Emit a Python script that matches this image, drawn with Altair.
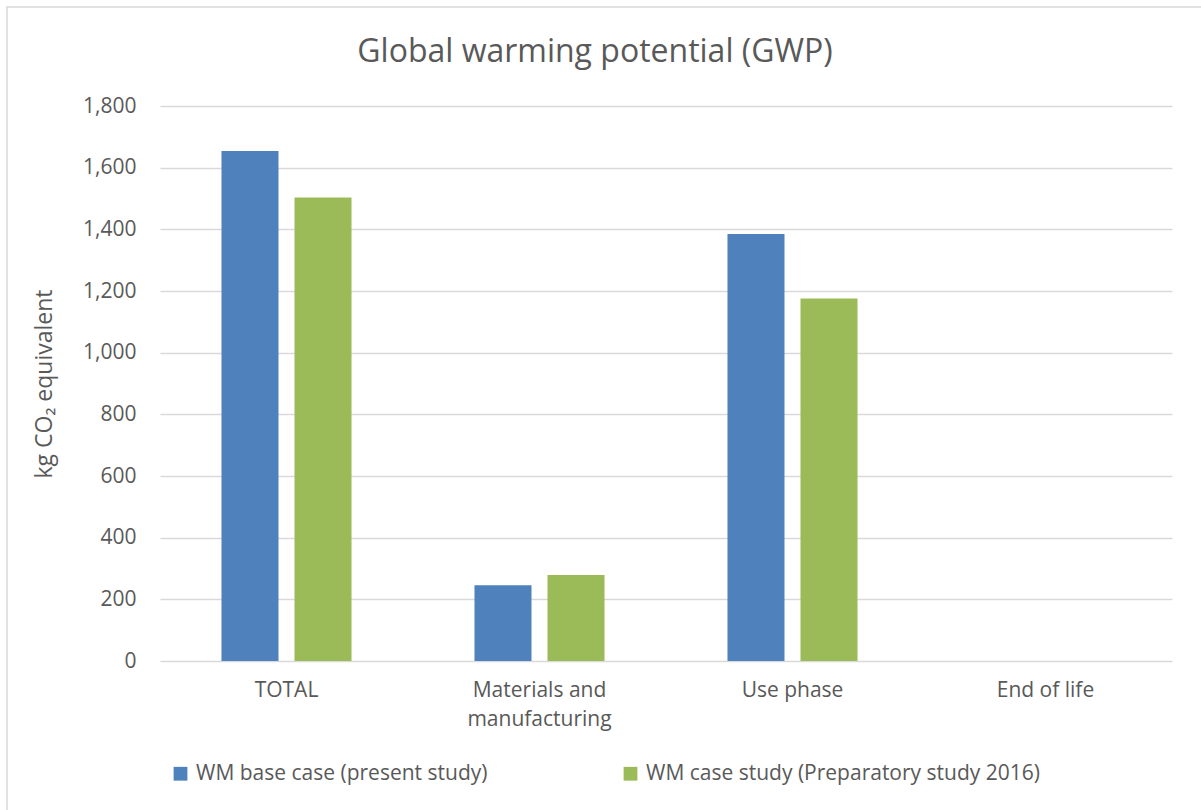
import altair as alt
import pandas as pd

# Life-cycle stages and the two compared cases
categories = ["TOTAL", "Materials and\nmanufacturing", "Use phase", "End of life"]
series = ["WM base case (present study)", "WM case study (Preparatory study 2016)"]
base_case = [1654, 246, 1385, 0]
case_study = [1503, 279, 1176, 0]
y_ticks = [0, 200, 400, 600, 800, 1000, 1200, 1400, 1600, 1800]
colors = ["#4F81BD", "#9BBB59"]
chart_title = "Global warming potential (GWP)"

rows = []
for cat, a, b in zip(categories, base_case, case_study):
    rows.append({"stage": cat, "case": series[0], "value": a})
    rows.append({"stage": cat, "case": series[1], "value": b})
df = pd.DataFrame(rows)

FONT = "Open Sans"
TXT = "#595959"
GRID = "#d9d9d9"

bars = alt.Chart(df).mark_bar().encode(
    x=alt.X(
        "stage:N",
        sort=categories,
        scale=alt.Scale(paddingInner=0, paddingOuter=0),
        axis=alt.Axis(
            title=None,
            labelAngle=0,
            labelFontSize=21,
            labelColor=TXT,
            labelFont=FONT,
            labelPadding=18,
            labelLineHeight=29,
            labelExpr="split(datum.label, '\\n')",
            ticks=False,
            domain=False,
            grid=False,
        ),
    ),
    xOffset=alt.XOffset(
        "case:N",
        sort=series,
        scale=alt.Scale(paddingInner=0.219, paddingOuter=0.842),
    ),
    y=alt.Y(
        "value:Q",
        scale=alt.Scale(domain=[0, 1800], nice=False),
        axis=alt.Axis(
            title="kg CO\u2082 equivalent",
            titleFontSize=23,
            titleFont=FONT,
            titleFontWeight="normal",
            titleColor=TXT,
            titlePadding=26,
            values=y_ticks,
            format=",d",
            labelFontSize=21,
            labelFont=FONT,
            labelColor=TXT,
            labelPadding=24,
            ticks=False,
            domain=False,
            grid=True,
            gridColor=GRID,
            gridWidth=1.5,
        ),
    ),
    color=alt.Color(
        "case:N",
        sort=series,
        scale=alt.Scale(domain=series, range=colors),
        legend=alt.Legend(
            title=None,
            orient="none",
            direction="horizontal",
            legendX=10,
            legendY=657,
            symbolType="square",
            symbolSize=190,
            symbolStrokeWidth=0,
            labelFontSize=21,
            labelFont=FONT,
            labelColor=TXT,
            labelOffset=5,
            labelLimit=450,
            columnPadding=132,
        ),
    ),
)

# Thin frame around the whole figure
frame = alt.Chart(pd.DataFrame({"f": [0]})).mark_rect(
    fill=None, stroke=GRID, strokeWidth=1.5
).encode(
    x=alt.value(-153), x2=alt.value(1060),
    y=alt.value(-99), y2=alt.value(720),
)

# Chart heading, centred over the whole figure
heading = alt.Chart(pd.DataFrame({"t": [chart_title]})).mark_text(
    font=FONT, fontSize=32, color=TXT, align="center", baseline="alphabetic"
).encode(
    text="t:N",
    x=alt.value(435),
    y=alt.value(-44),
)

chart = alt.layer(frame, heading, bars).properties(
    width=1012,
    height=555,
    autosize=alt.AutoSizeParams(type="none"),
    padding={"left": 160, "top": 106, "right": 29, "bottom": 149},
).configure_view(stroke=None)

chart.save("out.html", embed_options={"renderer": "svg", "actions": False})
